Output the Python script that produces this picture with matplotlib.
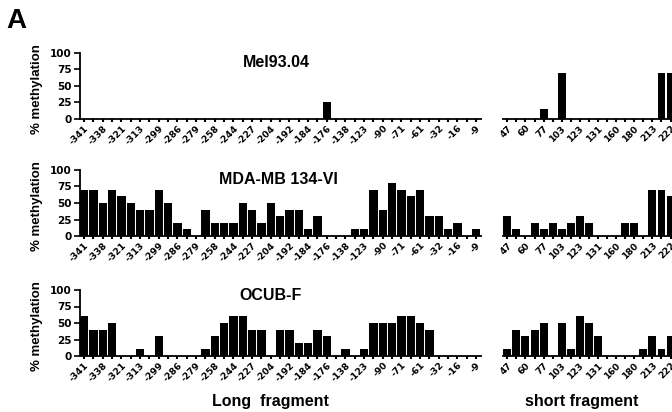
import matplotlib
matplotlib.use('Agg')
import matplotlib.pyplot as plt

# CpG positions (every other site is labelled)
long_labels = ['-341', '-338', '-321', '-313', '-299', '-286', '-279', '-258', '-244', '-227', '-204',
               '-192', '-184', '-176', '-138', '-123', '-90', '-71', '-61', '-32', '-16', '-9']
short_labels = ['47', '60', '77', '103', '123', '131', '160', '180', '213', '222']
samples = ['Mel93.04', 'MDA-MB 134-VI', 'OCUB-F']

mel_long = [0, 0, 0, 0, 0, 0, 0, 0, 0, 0, 0, 0, 0, 0, 0, 0, 0, 0, 0, 0, 0, 0,
            0, 0, 0, 0, 25, 0, 0, 0, 0, 0, 0, 0, 0, 0, 0, 0, 0, 0, 0, 0, 0]
mda_long = [70, 70, 50, 70, 60, 50, 40, 40, 70, 50, 20, 10, 0, 40, 20, 20, 20, 50, 40, 20, 50, 30,
            40, 40, 10, 30, 0, 0, 0, 10, 10, 70, 40, 80, 70, 60, 70, 30, 30, 10, 20, 0, 10]
ocub_long = [60, 40, 40, 50, 0, 0, 10, 0, 30, 0, 0, 0, 0, 10, 30, 50, 60, 60, 40, 40, 0, 40,
             40, 20, 20, 40, 30, 0, 10, 0, 10, 50, 50, 50, 60, 60, 50, 40, 0, 0, 0, 0, 0]

mel_short = [0, 0, 0, 0, 15, 0, 70, 0, 0, 0, 0, 0, 0, 0, 0, 0, 0, 70, 70]
mda_short = [30, 10, 0, 20, 10, 20, 10, 20, 30, 20, 0, 0, 0, 20, 20, 0, 70, 70, 60]
ocub_short = [10, 40, 30, 40, 50, 0, 50, 10, 60, 50, 30, 0, 0, 0, 0, 10, 30, 10, 30]

long_data = [mel_long, mda_long, ocub_long]
short_data = [mel_short, mda_short, ocub_short]

W, H = 672, 412
fig = plt.figure(figsize=(W / 100, H / 100), dpi=100)


def box(x0, x1, ytop, ybot):
    return [x0 / W, 1 - ybot / H, (x1 - x0) / W, (ybot - ytop) / H]


# pixel rows of the 100 and 0 lines for each panel, title placement
rows = [(52.7, 118.7), (170, 236), (290, 356)]
title_pos = [(0.49, 0.85), (0.495, 0.85), (0.475, 0.91)]
tick_font = dict(family='DejaVu Sans', weight='bold', size=6.6)


def style(ax):
    for s in ['top', 'right']:
        ax.spines[s].set_visible(False)
    ax.spines['bottom'].set_linewidth(1.3)
    ax.spines['left'].set_linewidth(1.3)
    ax.set_ylim(0, 100)
    ax.tick_params(axis='x', length=2.5, width=1.5, pad=1)


for i in range(3):
    ytop, ybot = rows[i]

    # long fragment
    ax = fig.add_axes(box(79.5, 480.8, ytop, ybot))
    vals = long_data[i]
    x = list(range(len(vals)))
    ax.bar(x, vals, width=0.89, color='black', linewidth=0)
    ax.set_xlim(-0.5, len(vals) - 0.5)
    style(ax)
    ax.set_xticks(x)
    labs = []
    for j in x:
        labs.append(long_labels[j // 2] if j % 2 == 0 else '')
    ax.set_xticklabels(labs, rotation=45, ha='right', va='top', rotation_mode='anchor', **tick_font)
    ax.set_yticks([0, 25, 50, 75, 100])
    ax.set_yticklabels(['0', '25', '50', '75', '100'], **dict(tick_font, size=7.5))
    ax.tick_params(axis='y', length=4, width=1.2, pad=1.5)
    ax.set_ylabel('% methylation', fontsize=9.5, fontweight='bold', family='Liberation Sans')
    ax.yaxis.set_label_coords(-0.092, 0.45)
    ax.text(title_pos[i][0], title_pos[i][1], samples[i], transform=ax.transAxes,
            ha='center', va='center', fontsize=11.5, fontweight='bold', family='Liberation Sans')

    # short fragment
    ax2 = fig.add_axes(box(502.8, 702.3, ytop, ybot))
    vals = short_data[i]
    x = list(range(len(vals)))
    ax2.bar(x, vals, width=0.88, color='black', linewidth=0)
    ax2.set_xlim(-0.5, 21.5)
    style(ax2)
    ax2.spines['left'].set_visible(False)
    ax2.set_yticks([])
    ax2.set_xticks(x)
    labs = []
    for j in x:
        labs.append(short_labels[j // 2] if j % 2 == 0 else '')
    ax2.set_xticklabels(labs, rotation=45, ha='right', va='top', rotation_mode='anchor', **tick_font)

fig.text(270 / W, 1 - 401.5 / H, 'Long  fragment', ha='center', va='center',
         fontsize=11.5, fontweight='bold', family='Liberation Sans')
fig.text(582 / W, 1 - 401.5 / H, 'short fragment', ha='center', va='center',
         fontsize=11.5, fontweight='bold', family='Liberation Sans')
fig.text(6 / W, 1 - 8 / H, 'A', ha='left', va='top', fontsize=20, fontweight='bold',
         family='Liberation Sans')

fig.savefig('out.png', dpi=100)
